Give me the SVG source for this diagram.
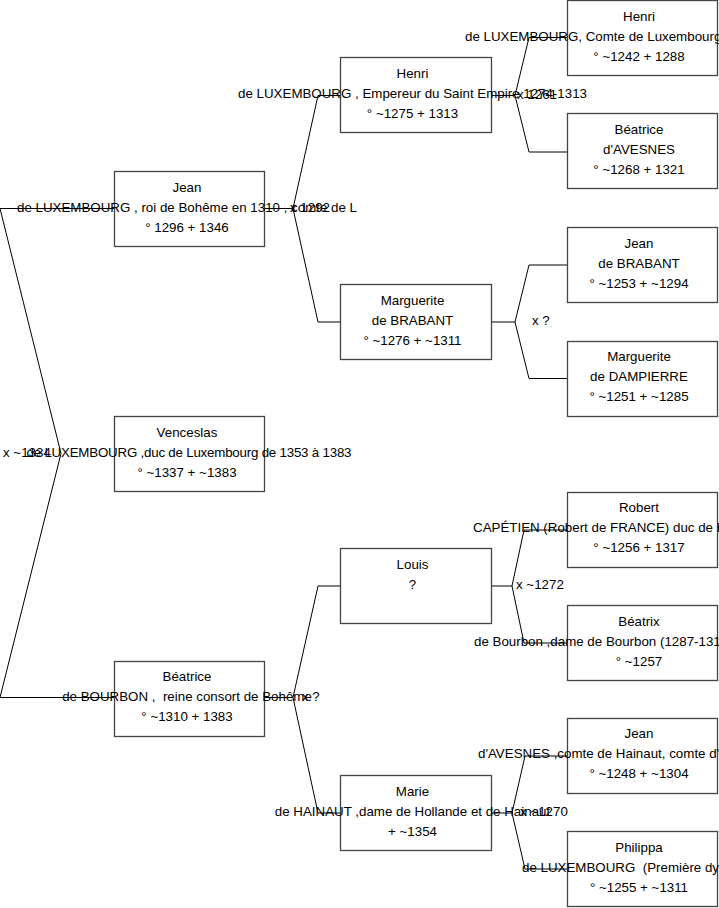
<svg xmlns="http://www.w3.org/2000/svg" width="719" height="908" viewBox="0 0 719 908">
<style>
text{font-family:"Liberation Sans",Arial,sans-serif;font-size:13.33px;fill:#000}
.c{text-anchor:middle}
.box{fill:#fff;stroke:#444;stroke-width:1.3}
.ln{fill:none;stroke:#000;stroke-width:1}
</style>
<rect width="719" height="908" fill="#fff"/>
<g id="connectors">
<path class="ln" d="M0,208.5 L114,208.5 M0,208.5 L61,453.5 L0,697.5 L114,697.5"/>
<path class="ln" d="M265,208.5 L293,208.5 M340,95.5 L318,95.5 L293,208.5 L318,322 L340,322"/>
<path class="ln" d="M265,697.5 L293,697.5 M340,586 L318,586 L293,697.5 L318,813 L340,813"/>
<path class="ln" d="M491,95.5 L515,95.5 M567,37.5 L529,37.5 L515,95.5 L529,152 L567,152"/>
<path class="ln" d="M491,322 L515,322 M567,265 L529,265 L515,322 L529,378.5 L567,378.5"/>
<path class="ln" d="M491,586 L512,586 M567,530 L524,530 L512,586 L524,643 L567,643"/>
<path class="ln" d="M491,813 L512,813 M567,756 L525,756 L512,813 L525,869 L567,869"/>
</g>
<g id="labels">
<text x="3" y="457">x ~1334</text>
<text x="290" y="212">x 1292</text>
<text x="302" y="701">x ?</text>
<text x="517" y="99">x 1261</text>
<text x="532" y="325">x ?</text>
<text x="516" y="589">x ~1272</text>
<text x="520" y="816">x ~1270</text>
</g>
<g id="n-jean">
<rect class="box" x="114.5" y="171.5" width="150" height="75"/>
<text class="c" x="187" y="191.5">Jean</text>
<text class="c" x="187" y="211.5">de LUXEMBOURG , roi de Bohême en 1310 , comte de L</text>
<text class="c" x="187" y="231.5">° 1296 + 1346</text>
</g>
<g id="n-venceslas">
<rect class="box" x="114.5" y="416.5" width="150" height="75"/>
<text class="c" x="187" y="437">Venceslas</text>
<text class="c" x="189" y="457" textLength="325">de LUXEMBOURG ,duc de Luxembourg de 1353 à 1383</text>
<text class="c" x="187" y="477">° ~1337 + ~1383</text>
</g>
<g id="n-beatrice-bourbon">
<rect class="box" x="114.5" y="661.5" width="150" height="75"/>
<text class="c" x="187" y="681">Béatrice</text>
<text class="c" x="187" y="701" xml:space="preserve">de BOURBON ,  reine consort de Bohême</text>
<text class="c" x="187" y="721">° ~1310 + 1383</text>
</g>
<g id="n-henri-emp">
<rect class="box" x="340.5" y="57.5" width="151" height="75"/>
<text class="c" x="412.5" y="77.5">Henri</text>
<text class="c" x="412.5" y="97.5">de LUXEMBOURG , Empereur du Saint Empire 1274-1313</text>
<text class="c" x="412.5" y="117.5">° ~1275 + 1313</text>
</g>
<g id="n-marguerite-brabant">
<rect class="box" x="340.5" y="284.5" width="151" height="75"/>
<text class="c" x="412.5" y="304.5">Marguerite</text>
<text class="c" x="412.5" y="324.5">de BRABANT</text>
<text class="c" x="412.5" y="344.5">° ~1276 + ~1311</text>
</g>
<g id="n-louis">
<rect class="box" x="340.5" y="548.5" width="151" height="75"/>
<text class="c" x="412.5" y="568.5">Louis</text>
<text class="c" x="412.5" y="588.5">?</text>
</g>
<g id="n-marie">
<rect class="box" x="340.5" y="775.5" width="151" height="75"/>
<text class="c" x="412.5" y="795.5">Marie</text>
<text class="c" x="412.5" y="815.5">de HAINAUT ,dame de Hollande et de Hainaut</text>
<text class="c" x="412.5" y="835.5">+ ~1354</text>
</g>
<g id="n-henri-comte">
<rect class="box" x="567.5" y="0.5" width="150" height="75"/>
<text class="c" x="639" y="20.5">Henri</text>
<text x="465" y="40.5">de LUXEMBOURG, Comte de Luxembourg</text>
<text class="c" x="639" y="60.5">° ~1242 + 1288</text>
</g>
<g id="n-beatrice-avesnes">
<rect class="box" x="567.5" y="113.5" width="150" height="75"/>
<text class="c" x="639" y="133.5">Béatrice</text>
<text class="c" x="639" y="153.5">d'AVESNES</text>
<text class="c" x="639" y="173.5">° ~1268 + 1321</text>
</g>
<g id="n-jean-brabant">
<rect class="box" x="567.5" y="227.5" width="150" height="75"/>
<text class="c" x="639" y="247.5">Jean</text>
<text class="c" x="639" y="267.5">de BRABANT</text>
<text class="c" x="639" y="287.5">° ~1253 + ~1294</text>
</g>
<g id="n-marguerite-dampierre">
<rect class="box" x="567.5" y="341.5" width="150" height="75"/>
<text class="c" x="639" y="361">Marguerite</text>
<text class="c" x="639" y="381">de DAMPIERRE</text>
<text class="c" x="639" y="401">° ~1251 + ~1285</text>
</g>
<g id="n-robert">
<rect class="box" x="567.5" y="492.5" width="150" height="75"/>
<text class="c" x="639" y="512">Robert</text>
<text x="473" y="532">CAPÉTIEN (Robert de FRANCE) duc de B</text>
<text class="c" x="639" y="552">° ~1256 + 1317</text>
</g>
<g id="n-beatrix">
<rect class="box" x="567.5" y="605.5" width="150" height="75"/>
<text class="c" x="639" y="625.5">Béatrix</text>
<text x="474" y="645.5">de Bourbon ,dame de Bourbon (1287-131</text>
<text class="c" x="639" y="665.5">° ~1257</text>
</g>
<g id="n-jean-avesnes">
<rect class="box" x="567.5" y="718.5" width="150" height="75"/>
<text class="c" x="639" y="738">Jean</text>
<text x="478" y="758">d'AVESNES ,comte de Hainaut, comte d'</text>
<text class="c" x="639" y="778">° ~1248 + ~1304</text>
</g>
<g id="n-philippa">
<rect class="box" x="567.5" y="831.5" width="150" height="75"/>
<text class="c" x="639" y="851.5">Philippa</text>
<text x="522" y="871.5" xml:space="preserve">de LUXEMBOURG  (Première dy</text>
<text class="c" x="639" y="891.5">° ~1255 + ~1311</text>
</g>
</svg>
